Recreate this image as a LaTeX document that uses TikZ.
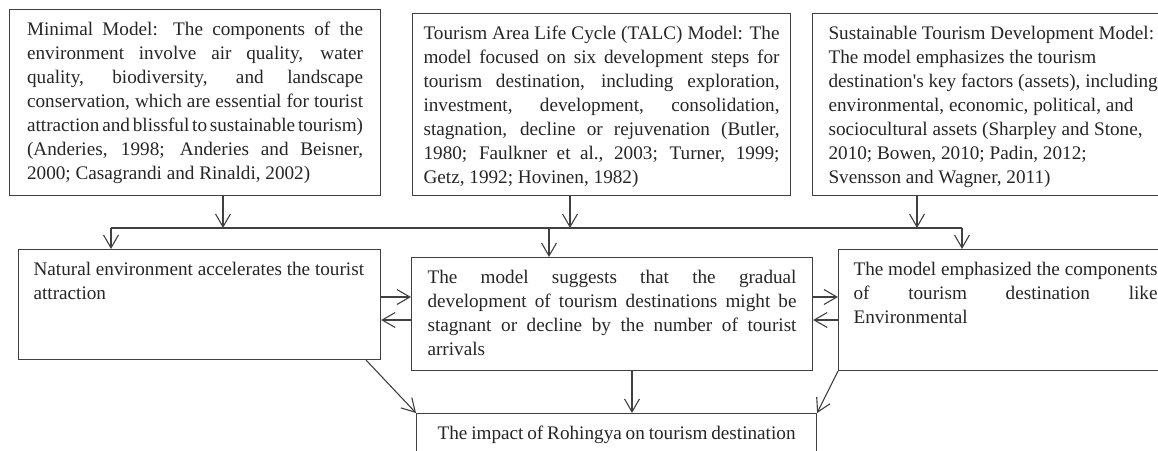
\documentclass[tikz,border=0pt]{standalone}
\usepackage{fontspec}
\setmainfont{Liberation Serif}
\usetikzlibrary{arrows.meta, positioning}
\definecolor{linegray}{HTML}{404040}
\definecolor{textgray}{HTML}{262626}
\newcommand{\boxfont}{\fontsize{19.2}{24}\selectfont\spaceskip=0.25em plus 0.6em minus 0.14em\tolerance=10000}
\tikzstyle{modelbox} = [
	rectangle,
	anchor=north west,
	draw=linegray,
	line width=1.1pt,
	inner xsep=16pt,
	inner ysep=8pt,
	text height=18pt,
	align=justify,
	text=textgray,
	font=\boxfont
]
\tikzstyle{busline} = [line width=1.1pt, draw=linegray]
\tikzstyle{arrow} = [busline, -{Straight Barb[length=13pt,width=15pt]}]

\begin{document}
\begin{tikzpicture}[x=1pt, y=-1pt]
	\useasboundingbox (0,0) rectangle (1158,450);

		\node (minimal) [modelbox, text width=336pt, inner xsep=17.5pt, text depth=152pt] at (9,9) {Minimal Model: The components of the\linebreak environment involve air quality, water\linebreak quality, biodiversity, and landscape\linebreak conservation, which are essential for tourist\linebreak attraction and blissful to sustainable tourism)\linebreak (Anderies, 1998; Anderies and Beisner,\linebreak 2000; Casagrandi and Rinaldi, 2002)};
		\node (lifecycle) [modelbox, text width=356pt, inner xsep=11pt, text depth=148pt] at (412,13) {Tourism Area Life Cycle (TALC) Model: The\linebreak model focused on six development steps for\linebreak tourism destination, including exploration,\linebreak investment, development, consolidation,\linebreak stagnation, decline or rejuvenation (Butler,\linebreak 1980; Faulkner et al., 2003; Turner, 1999;\linebreak Getz, 1992; Hovinen, 1982)};
		\node (sustainable) [modelbox, text width=334pt, text depth=148pt] at (812,13) {Sustainable Tourism Development Model:\newline The model emphasizes the tourism\newline destination\textquotesingle s key factors (assets), including\newline environmental, economic, political, and\newline sociocultural assets (Sharpley and Stone,\newline 2010; Bowen, 2010; Padin, 2012;\newline Svensson and Wagner, 2011)};

		\node (natural) [modelbox, text width=332pt, inner xsep=15pt, text depth=76pt] at (18,249) {Natural environment accelerates the tourist\newline attraction};
		\node (gradual) [modelbox, text width=369pt, text depth=79pt] at (411,257) {The model suggests that the gradual\linebreak development of tourism destinations might be\linebreak stagnant or decline by the number of tourist\linebreak arrivals};
		\node (components) [modelbox, text width=304pt, inner xsep=15pt, text depth=87pt] at (838,249) {The model emphasized the components\linebreak of tourism destination like\linebreak Environmental};

		\node (impact) [modelbox, text width=358pt, inner xsep=21pt, text depth=30pt] at (416,413) {The impact of Rohingya on tourism destination};

		\coordinate (busleft) at (111,228);
		\coordinate (busmid) at (549,228);
		\coordinate (busright) at (962,228);
		\coordinate (drop1) at (223,228);
		\coordinate (drop2) at (570,228);
		\coordinate (drop3) at (917,228);
		\coordinate (upper) at (0,297);
		\coordinate (lower) at (0,320);
		\coordinate (midline) at (632,0);

		\draw [arrow] (minimal.south -| drop1) -- (drop1);
		\draw [arrow] (lifecycle.south -| drop2) -- (drop2);
		\draw [arrow] (sustainable.south -| drop3) -- (drop3);

		\draw [busline] (busleft) -- (busright);
		\draw [arrow] (busleft) -- (natural.north -| busleft);
		\draw [arrow] (busmid) -- (gradual.north -| busmid);
		\draw [arrow] (busright) -- (components.north -| busright);

		\draw [arrow] (natural.east |- upper) -- (gradual.west |- upper);
		\draw [arrow] (gradual.west |- lower) -- (natural.east |- lower);
		\draw [arrow] (gradual.east |- upper) -- (components.west |- upper);
		\draw [arrow] (components.west |- lower) -- (gradual.east |- lower);

		\draw [arrow] ([xshift=-15pt]natural.south east) -- (impact.north west);
		\draw [arrow] (gradual.south -| midline) -- (impact.north -| midline);
		\draw [arrow] (components.south west) -- (impact.north east);
	\end{tikzpicture}
\end{document}
